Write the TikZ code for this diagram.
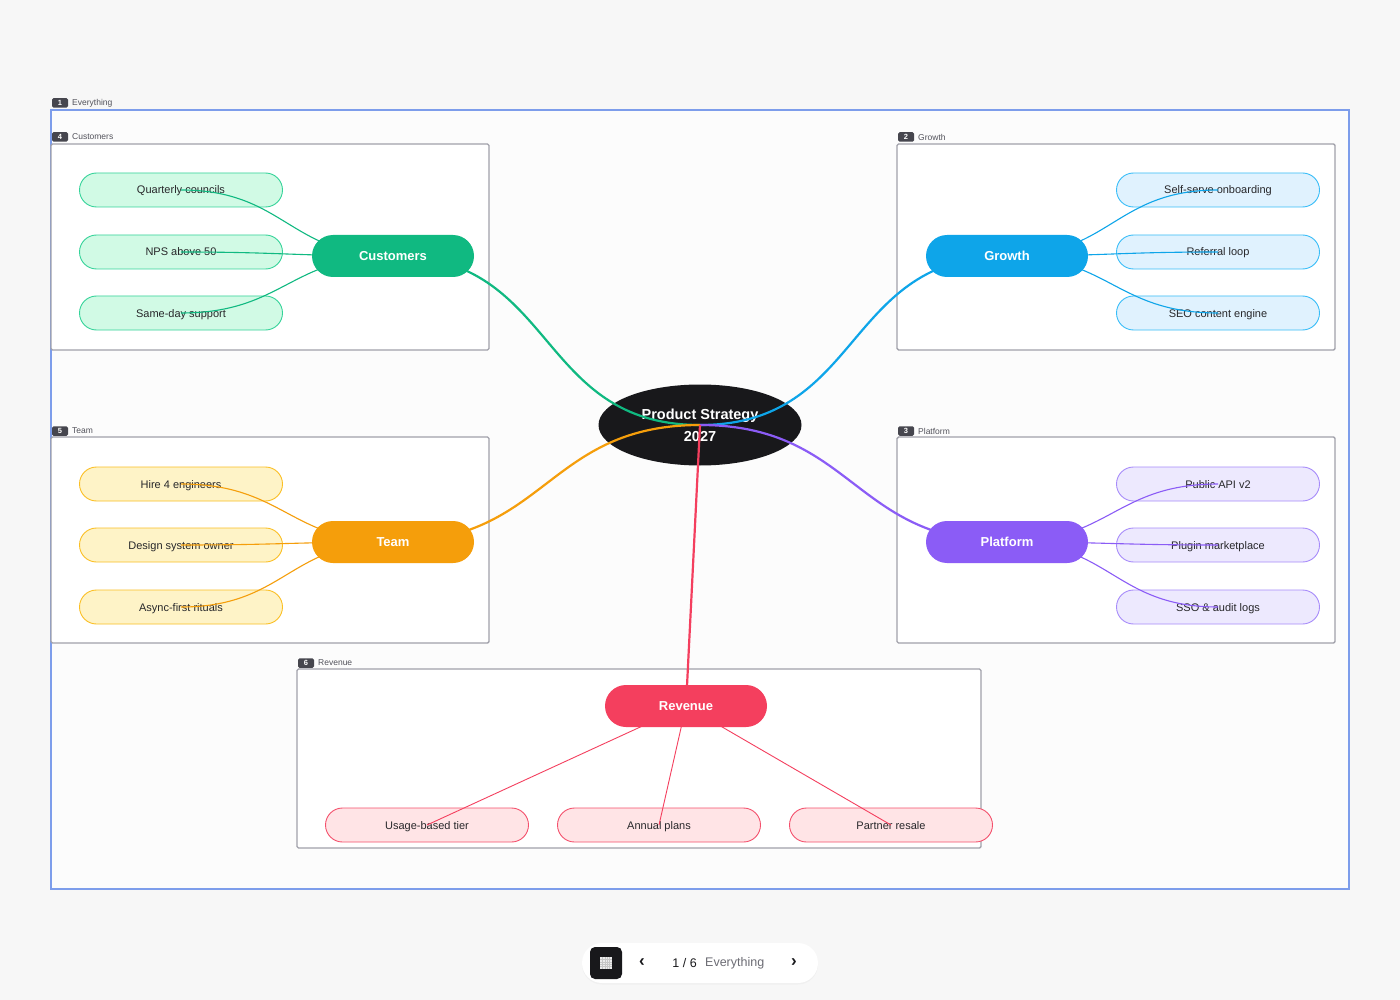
\documentclass[tikz,border=0pt]{standalone}
\usepackage{fontspec}
\setmainfont{Liberation Sans}
\usetikzlibrary{shapes.misc,shapes.geometric,shadows,positioning}

\definecolor{pagebg}{HTML}{F7F7F7}
\definecolor{allfill}{HTML}{FCFCFC}
\definecolor{allline}{HTML}{7D9DEB}
\definecolor{frameline}{HTML}{A1A1AA}
\definecolor{badgebg}{HTML}{46464E}
\definecolor{labelgray}{HTML}{52525B}
\definecolor{inkdark}{HTML}{18181B}
\definecolor{leaftext}{HTML}{27272A}
\definecolor{custmain}{HTML}{10B981}
\definecolor{custfill}{HTML}{D1FAE5}
\definecolor{custline}{HTML}{34D399}
\definecolor{growmain}{HTML}{0EA5E9}
\definecolor{growfill}{HTML}{E0F2FE}
\definecolor{growline}{HTML}{38BDF8}
\definecolor{teammain}{HTML}{F59E0B}
\definecolor{teamfill}{HTML}{FEF3C7}
\definecolor{teamline}{HTML}{FBBF24}
\definecolor{platmain}{HTML}{8B5CF6}
\definecolor{platfill}{HTML}{EDE9FE}
\definecolor{platline}{HTML}{A78BFA}
\definecolor{revmain}{HTML}{F43F5E}
\definecolor{revfill}{HTML}{FFE4E6}
\definecolor{revline}{HTML}{F4506C}

\pgfdeclarelayer{front}
\pgfsetlayers{main,front}

\tikzset{
  frame/.style={draw=frameline, line width=1.4pt, fill=white, rounded corners=1.5pt},
  badge/.style={fill=badgebg, rounded corners=1.5pt, inner sep=0pt,
    minimum width=16pt, minimum height=9.5pt, text=white,
    font=\fontsize{7.5}{7.5}\selectfont\bfseries},
  flabel/.style={anchor=west, inner sep=0pt, text=labelgray,
    font=\fontsize{8.5}{9}\selectfont},
  leaf/.style={rounded rectangle, draw=#1, line width=0.9pt, inner sep=0pt,
    minimum width=203pt, minimum height=34pt, text=leaftext,
    text height=8pt, text depth=0pt,
    font=\fontsize{11}{12}\selectfont},
  branch/.style={rounded rectangle, fill=#1, inner sep=0pt,
    minimum width=162pt, minimum height=42pt, text=white,
    text height=9.5pt, text depth=0pt,
    font=\fontsize{13}{14}\selectfont\bfseries},
  leafedge/.style={draw=#1, line width=1.1pt, looseness=1.2},
  hubedge/.style={draw=#1, line width=2.2pt, looseness=1.2}
}

\begin{document}
\begin{tikzpicture}[x=1pt,y=-1pt]
\useasboundingbox (0,0) rectangle (1400,1000);
\fill[pagebg] (0,0) rectangle (1400,1000);

% frames
\draw[draw=allline, line width=1.4pt, fill=allfill] (51,110) rectangle (1349,889);
\node[badge] (b1) at (60,103) {1};
\node[flabel] at (72,103) {Everything};

\draw[frame] (51,144) rectangle (489,350);
\node[badge] (b4) at (60,137) {4};
\node[flabel] at (72,137) {Customers};

\draw[frame] (897,144) rectangle (1335,350);
\node[badge] (b2) at (906,137) {2};
\node[flabel] at (918,137) {Growth};

\draw[frame] (51,437) rectangle (489,643);
\node[badge] (b5) at (60,431) {5};
\node[flabel] at (72,431) {Team};

\draw[frame] (897,437) rectangle (1335,643);
\node[badge] (b3) at (906,431) {3};
\node[flabel] at (918,431) {Platform};

\draw[frame] (297,669) rectangle (981,848);
\node[badge] (b6) at (306,663) {6};
\node[flabel] at (318,663) {Revenue};

% hub
\node[ellipse, fill=inkdark, text=white, inner sep=0pt,
      minimum width=203pt, minimum height=81pt, align=center,
      font=\fontsize{14.5}{22}\selectfont\bfseries] (ps) at (700,425)
      {Product Strategy\\2027};

% leaves
\node[leaf=custline, fill=custfill] (cust1) at (181,190) {Quarterly councils};
\node[leaf=custline, fill=custfill] (cust2) at (181,252) {NPS above 50};
\node[leaf=custline, fill=custfill] (cust3) at (181,313) {Same-day support};

\node[leaf=growline, fill=growfill] (grow1) at (1218,190) {Self-serve onboarding};
\node[leaf=growline, fill=growfill] (grow2) at (1218,252) {Referral loop};
\node[leaf=growline, fill=growfill] (grow3) at (1218,313) {SEO content engine};

\node[leaf=teamline, fill=teamfill] (team1) at (181,484) {Hire 4 engineers};
\node[leaf=teamline, fill=teamfill] (team2) at (181,545) {Design system owner};
\node[leaf=teamline, fill=teamfill] (team3) at (181,607) {Async-first rituals};

\node[leaf=platline, fill=platfill] (plat1) at (1218,484) {Public API v2};
\node[leaf=platline, fill=platfill] (plat2) at (1218,545) {Plugin marketplace};
\node[leaf=platline, fill=platfill] (plat3) at (1218,607) {SSO \& audit logs};

\node[leaf=revline, fill=revfill] (rev1) at (427,825) {Usage-based tier};
\node[leaf=revline, fill=revfill] (rev2) at (659,825) {Annual plans};
\node[leaf=revline, fill=revfill] (rev3) at (891,825) {Partner resale};

% branches
\begin{pgfonlayer}{front}
\node[branch=custmain] (cust) at (393,256) {Customers};
\node[branch=growmain] (grow) at (1007,256) {Growth};
\node[branch=teammain] (team) at (393,542) {Team};
\node[branch=platmain] (plat) at (1007,542) {Platform};
\node[branch=revmain] (rev) at (686,706) {Revenue};
\end{pgfonlayer}

% hub edges
\draw[hubedge=custmain] (ps.center) to[out=180,in=0] (cust.center);
\draw[hubedge=growmain] (ps.center) to[out=0,in=180] (grow.center);
\draw[hubedge=teammain] (ps.center) to[out=180,in=0] (team.center);
\draw[hubedge=platmain] (ps.center) to[out=0,in=180] (plat.center);
\draw[hubedge=revmain] (ps.center) -- (rev.center);

% leaf edges
\foreach \i in {1,2,3} {
  \draw[leafedge=custmain] (cust.center) to[out=180,in=0] (cust\i.center);
  \draw[leafedge=growmain] (grow.center) to[out=0,in=180] (grow\i.center);
  \draw[leafedge=teammain] (team.center) to[out=180,in=0] (team\i.center);
  \draw[leafedge=platmain] (plat.center) to[out=0,in=180] (plat\i.center);
  \draw[draw=revmain, line width=0.9pt] (rev.center) -- (rev\i.center);
}

% toolbar
\node[rounded rectangle, fill=white, minimum width=236pt, minimum height=40pt,
      inner sep=0pt, drop shadow={shadow xshift=0pt, shadow yshift=-1.5pt,
      opacity=0.06}] (bar) at (700,963) {};
\node[fill=inkdark, rounded corners=5pt, minimum size=32pt, inner sep=0pt]
      (gridbtn) at (606,963) {};
\fill[white!92!black] (600,957) rectangle (612,969);
\foreach \k in {1,...,4} {
  \draw[gray!45, line width=0.3pt] (600+\k*2.4,957) -- (600+\k*2.4,969);
  \draw[gray!45, line width=0.3pt] (600,957+\k*2.4) -- (612,957+\k*2.4);
}
\node[text=inkdark, font=\fontsize{17}{17}\selectfont\bfseries] (prevbtn) at (642,963) {‹};
\node[text=inkdark, font=\fontsize{12.5}{13}\selectfont, anchor=east, inner sep=0pt]
      (pagenum) at (697,963) {1 / 6};
\node[text=labelgray!85, font=\fontsize{12.5}{13}\selectfont, anchor=west, inner sep=0pt]
      (pagename) at (705,963) {Everything};
\node[text=inkdark, font=\fontsize{17}{17}\selectfont\bfseries] (nextbtn) at (794,963) {›};
\end{tikzpicture}
\end{document}
